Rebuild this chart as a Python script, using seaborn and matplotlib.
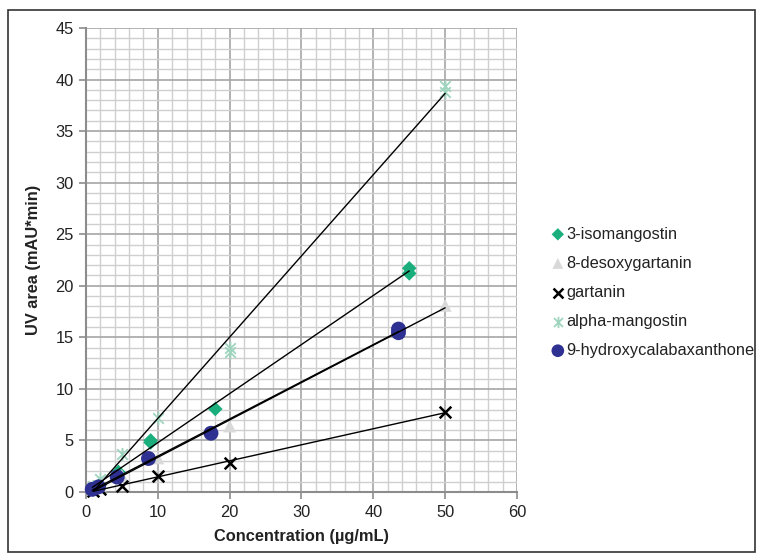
import numpy as np
import pandas as pd
import matplotlib
matplotlib.use("Agg")
import matplotlib.pyplot as plt
from matplotlib.path import Path
from matplotlib.patches import Rectangle
from matplotlib.ticker import MultipleLocator
import seaborn as sns

# ---------------- data ----------------
iso_x = [0.9, 1.8, 4.5, 9.0, 9.0, 18.0, 45.0, 45.0]
iso_y = [0.3, 0.6, 1.95, 4.8, 5.0, 8.05, 21.7, 21.2]

deso_x = [1.0, 2.0, 5.0, 10.0, 20.0, 50.0]
deso_y = [0.3, 0.65, 1.6, 3.3, 6.4, 18.1]

gart_x = [1.0, 2.0, 5.0, 10.0, 20.0, 50.0]
gart_y = [0.12, 0.3, 0.6, 1.55, 2.85, 7.75]

alpha_x = [1.0, 2.0, 5.0, 10.0, 20.0, 20.0, 50.0, 50.0]
alpha_y = [0.6, 1.3, 3.7, 7.2, 13.6, 14.0, 38.8, 39.4]

hyd_x = [0.87, 1.74, 4.35, 8.7, 17.4, 43.5, 43.5]
hyd_y = [0.26, 0.5, 1.45, 3.25, 5.7, 15.8, 15.45]

series_names = ["3-isomangostin", "8-desoxygartanin", "gartanin",
                "alpha-mangostin", "9-hydroxycalabaxanthone"]

x_label = "Concentration (\u00b5g/mL)"
y_label = "UV area (mAU*min)"

# ---------------- styling ----------------
sns.set_theme(style="white")
plt.rcParams["font.family"] = ["Liberation Sans", "DejaVu Sans"]

asterisk = Path([(-1, -1), (1, 1), (-1, 1), (1, -1), (0, -1.25), (0, 1.25)],
                [Path.MOVETO, Path.LINETO, Path.MOVETO, Path.LINETO,
                 Path.MOVETO, Path.LINETO])

styles = {
    "3-isomangostin": dict(marker="D", color="#1aae7c", s=55, lw=0),
    "8-desoxygartanin": dict(marker="^", color="#d9d9d9", s=85, lw=0),
    "gartanin": dict(marker="x", color="#000000", s=70, lw=1.8),
    "alpha-mangostin": dict(marker=asterisk, color="#9fd4be", s=90, lw=1.3),
    "9-hydroxycalabaxanthone": dict(marker="o", color="#2e3192", s=115, lw=0),
}

data = {
    "3-isomangostin": (iso_x, iso_y),
    "8-desoxygartanin": (deso_x, deso_y),
    "gartanin": (gart_x, gart_y),
    "alpha-mangostin": (alpha_x, alpha_y),
    "9-hydroxycalabaxanthone": (hyd_x, hyd_y),
}

FS = 11.8

fig = plt.figure(figsize=(7.63, 5.60), dpi=100)
ax = fig.add_axes([0.1127, 0.1214, 0.5649, 0.8286])

for name in series_names:
    xs, ys = data[name]
    df = pd.DataFrame({"x": xs, "y": ys})
    st = styles[name]
    sns.scatterplot(data=df, x="x", y="y", ax=ax, marker=st["marker"],
                    color=st["color"], s=st["s"], linewidth=st["lw"],
                    edgecolor=st["color"] if st["lw"] > 0 else "none",
                    label=name, zorder=3, clip_on=False)

for name in series_names:
    xs, ys = data[name]
    df = pd.DataFrame({"x": xs, "y": ys})
    sns.regplot(data=df, x="x", y="y", ax=ax, scatter=False, ci=None,
                truncate=True, color="black", line_kws=dict(lw=1.0, zorder=4))

ax.set_xlim(0, 60)
ax.set_ylim(0, 45)
ax.xaxis.set_major_locator(MultipleLocator(10))
ax.xaxis.set_minor_locator(MultipleLocator(2))
ax.yaxis.set_major_locator(MultipleLocator(5))
ax.yaxis.set_minor_locator(MultipleLocator(1))
ax.grid(which="major", color="#a6a6a6", lw=1.2, zorder=0)
ax.grid(which="minor", color="#cfcfcf", lw=1.0, zorder=0)
ax.set_axisbelow(True)

for sp in ["top", "right"]:
    ax.spines[sp].set_visible(False)
for sp in ["left", "bottom"]:
    ax.spines[sp].set_color("#8c8c8c")
    ax.spines[sp].set_linewidth(1.5)

ax.tick_params(axis="both", which="major", direction="out", length=5,
               width=1.2, color="#8c8c8c", labelsize=FS, labelcolor="#222222",
               left=True, bottom=True, pad=4)
ax.tick_params(which="minor", length=0)

ax.set_xlabel(x_label, fontsize=FS, fontweight="bold", color="#222222", labelpad=7)
ax.set_ylabel(y_label, fontsize=FS, fontweight="bold", color="#222222", labelpad=10)

handles, labels = ax.get_legend_handles_labels()
if ax.legend_:
    ax.legend_.remove()
fig.legend(handles, labels, loc="upper left", bbox_to_anchor=(0.715, 0.607),
           frameon=False, fontsize=FS, handlelength=0.7, handletextpad=0.15,
           labelspacing=0.86, borderaxespad=0, markerscale=0.85,
           labelcolor="#222222")

fig.patches.append(Rectangle((8 / 763, 8 / 560), 747 / 763, 542 / 560,
                             transform=fig.transFigure, fill=False,
                             edgecolor="#333333", lw=1.2))

fig.savefig("out.png", dpi=100)
